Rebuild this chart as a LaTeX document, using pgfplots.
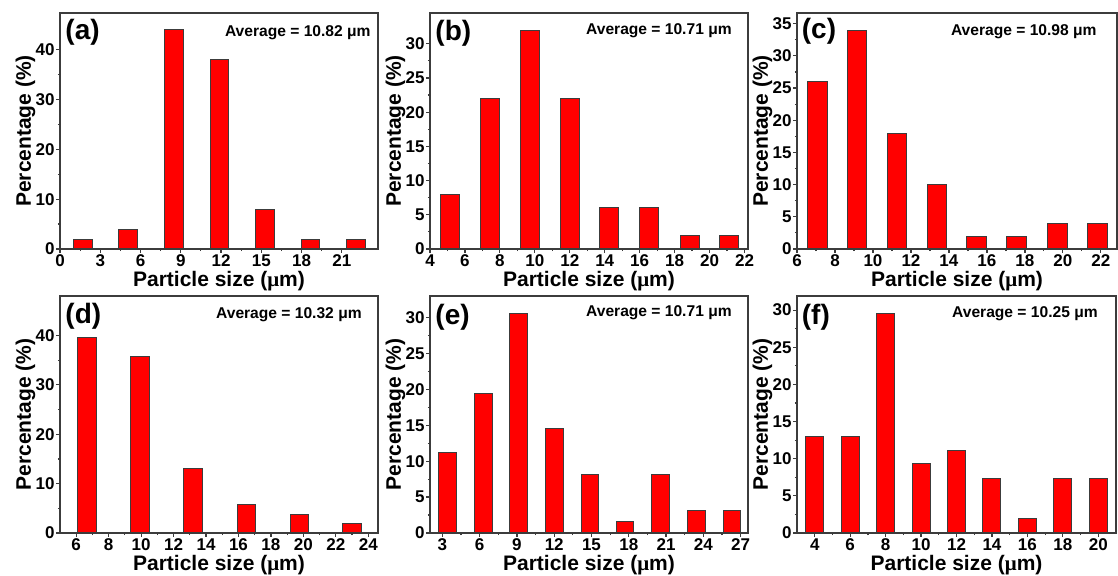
\documentclass[border=0pt]{standalone}
\usepackage{fontspec}
\setmainfont{Liberation Sans}
\newfontfamily\mufont{Liberation Serif}
\usepackage{pgfplots}
\pgfplotsset{compat=1.18}
\definecolor{barred}{RGB}{255,0,0}
\definecolor{edge}{RGB}{60,60,60}
\pgfplotsset{
 panel/.style={
  scale only axis, anchor=south west,
  ymin=0,
  axis line style={edge, line width=0.8pt},
  tick align=outside, xtick pos=left, ytick pos=left,
  major tick length=1.8pt, minor tick length=1.1pt,
  every tick/.style={edge, line width=0.6pt},
  minor x tick num=1, minor y tick num=1,
  ticklabel style={font=\fontsize{8.5}{9.5}\selectfont\bfseries},
  xticklabel style={inner sep=0.7pt},
  yticklabel style={inner sep=0.7pt},
  /pgf/number format/assume math mode=true,
  xlabel={Particle size ({\mufont μ}m)},
  ylabel={Percentage (\%)},
  label style={font=\fontsize{10.5}{12}\selectfont\bfseries},
  xlabel style={at={(axis description cs:0.5,0)}, anchor=north, yshift=-11pt, inner sep=0pt},
  ylabel style={at={(axis description cs:-0.076,0.5)}, anchor=south, inner sep=0pt},
  ybar, bar shift=0pt,
 },
 bars/.style={fill=barred, draw=edge, line width=0.5pt},
}
\tikzset{
 lbl/.style={anchor=north west, font=\fontsize{14}{16}\selectfont\bfseries, inner sep=0pt},
 avg/.style={anchor=east, font=\fontsize{7.8}{9}\selectfont\bfseries, inner sep=0pt},
}
\begin{document}
\begin{tikzpicture}
\useasboundingbox (0,0) rectangle (559pt,288pt);
% (a)
\begin{axis}[panel, at={(30pt,163.5pt)}, width=159pt, height=118pt,
  xmin=0, xmax=23.7, ymax=47.4, bar width=1.39,
  xtick={0,3,...,21}, ytick={0,10,...,40}]
\addplot[bars] coordinates {(1.7,2) (5.09,4) (8.49,44) (11.88,38) (15.27,8) (18.66,2) (22.07,2)};
\node[lbl] at (rel axis cs:0.016,0.975) {(a)};
\node[avg] at (rel axis cs:0.978,0.915) {Average = 10.82 μm};
\end{axis}
% (b)
\begin{axis}[panel, at={(215pt,163.5pt)}, width=159pt, height=118pt,
  xmin=4, xmax=22.2, ymax=34.5, bar width=1.1,
  xtick={4,6,...,22}, ytick={0,5,...,30}]
\addplot[bars] coordinates {(5.16,8) (7.44,22) (9.72,32) (11.99,22) (14.26,6) (16.53,6) (18.86,2) (21.12,2)};
\node[lbl] at (rel axis cs:0.016,0.97) {(b)};
\node[avg] at (rel axis cs:0.95,0.924) {Average = 10.71 μm};
\end{axis}
% (c)
\begin{axis}[panel, at={(398.5pt,163.5pt)}, width=160pt, height=118pt,
  xmin=6, xmax=22.85, ymax=36.65, bar width=1.04,
  xtick={6,8,...,22}, ytick={0,5,...,35}]
\addplot[bars] coordinates {(7.07,26) (9.16,34) (11.26,18) (13.37,10) (15.47,2) (17.56,2) (19.70,4) (21.82,4)};
\node[lbl] at (rel axis cs:0.014,0.98) {(c)};
\node[avg] at (rel axis cs:0.9375,0.92) {Average = 10.98 μm};
\end{axis}
% (d)
\begin{axis}[panel, at={(30pt,21.5pt)}, width=159pt, height=118.5pt,
  xmin=5, xmax=24.6, ymax=48, bar width=1.15,
  xtick={6,8,...,24}, ytick={0,10,...,40}]
\addplot[bars] coordinates {(6.66,39.5) (9.93,35.8) (13.2,13.1) (16.5,5.7) (19.76,3.8) (23.0,1.9)};
\node[lbl] at (rel axis cs:0.016,0.97) {(d)};
\node[avg] at (rel axis cs:0.95,0.92) {Average = 10.32 μm};
\end{axis}
% (e)
\begin{axis}[panel, at={(215pt,21.5pt)}, width=159pt, height=118.5pt,
  xmin=2, xmax=27.6, ymax=33, bar width=1.42,
  xtick={3,6,...,27}, ytick={0,5,...,30}]
\addplot[bars] coordinates {(3.43,11.2) (6.32,19.4) (9.14,30.6) (12.01,14.5) (14.87,8.1) (17.7,1.6) (20.57,8.1) (23.45,3.2) (26.3,3.2)};
\node[lbl] at (rel axis cs:0.016,0.965) {(e)};
\node[avg] at (rel axis cs:0.95,0.928) {Average = 10.71 μm};
\end{axis}
% (f)
\begin{axis}[panel, at={(398.5pt,21.5pt)}, width=159.5pt, height=118.5pt,
  xmin=3, xmax=21, ymax=31.9, bar width=1.02,
  xtick={4,6,...,20}, ytick={0,5,...,30}]
\addplot[bars] coordinates {(4,13) (6,13) (8,29.6) (10,9.3) (12,11.1) (14,7.4) (16,1.9) (18,7.4) (20,7.4)};
\node[lbl] at (rel axis cs:0.014,0.965) {(f)};
\node[avg] at (rel axis cs:0.944,0.924) {Average = 10.25 μm};
\end{axis}
\end{tikzpicture}
\end{document}
